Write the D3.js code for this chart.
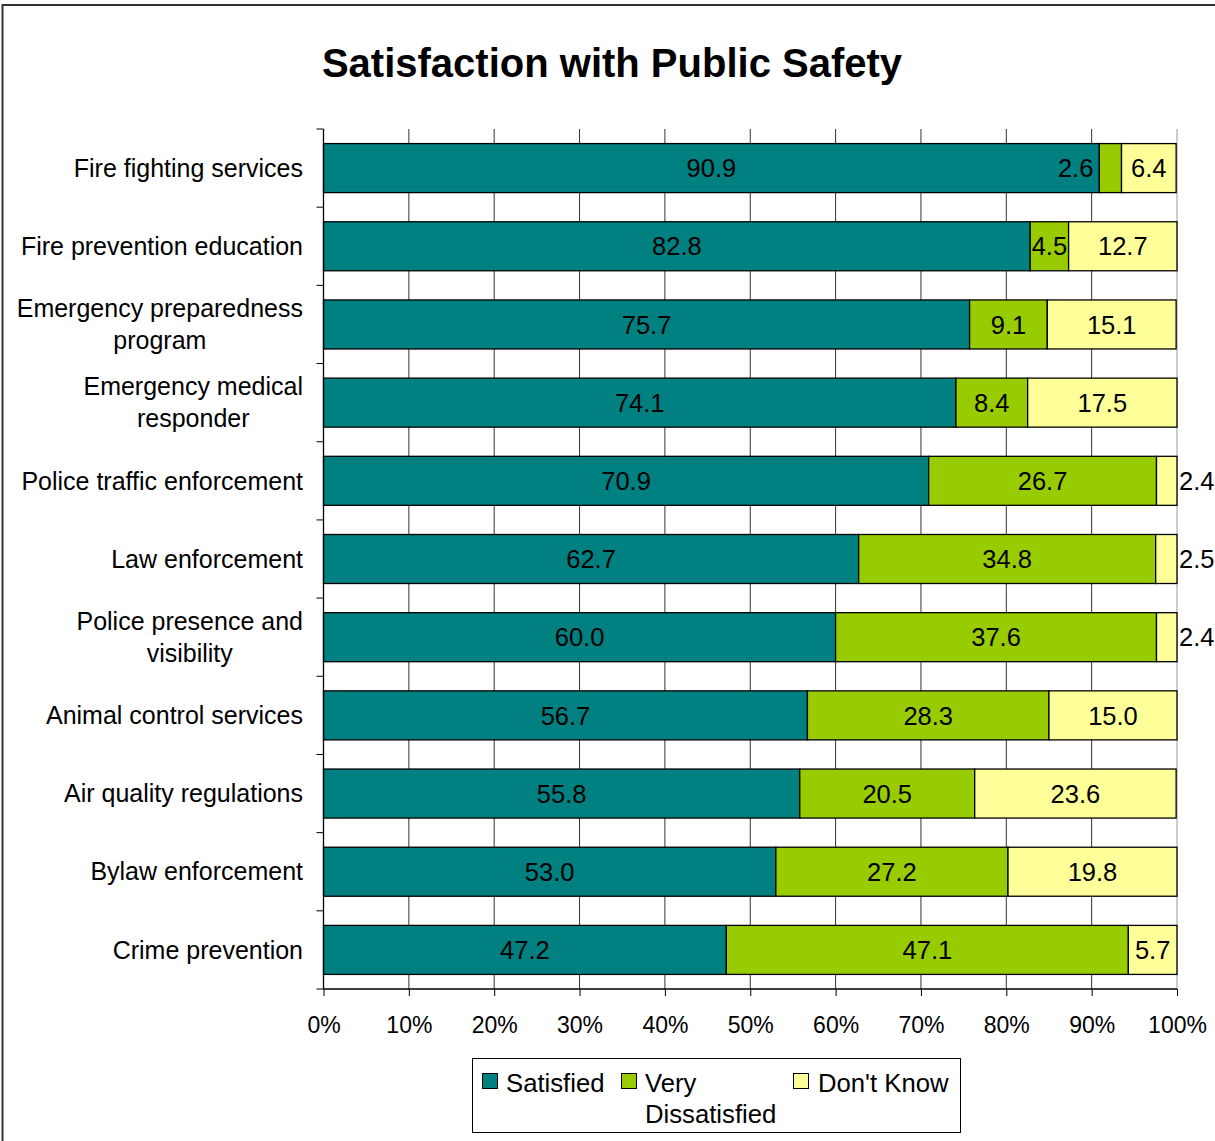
<!DOCTYPE html>
<html>
<head>
<meta charset="utf-8">
<script src="https://cdn.jsdelivr.net/npm/d3@7"></script>
<style>
  html, body { margin: 0; padding: 0; background: #fff; }
  svg { display: block; font-family: "Liberation Sans", Arial, sans-serif; }
</style>
</head>
<body>
<svg id="chart" width="1215" height="1141"></svg>
<script>
// Survey services, top to bottom
const categories = [
  "Fire fighting services",
  "Fire prevention education",
  "Emergency preparedness program",
  "Emergency medical responder",
  "Police traffic enforcement",
  "Law enforcement",
  "Police presence and visibility",
  "Animal control services",
  "Air quality regulations",
  "Bylaw enforcement",
  "Crime prevention"
];

// Percent of respondents per response
const satisfied        = [90.9, 82.8, 75.7, 74.1, 70.9, 62.7, 60.0, 56.7, 55.8, 53.0, 47.2];
const veryDissatisfied = [2.6, 4.5, 9.1, 8.4, 26.7, 34.8, 37.6, 28.3, 20.5, 27.2, 47.1];
const dontKnow         = [6.4, 12.7, 15.1, 17.5, 2.4, 2.5, 2.4, 15.0, 23.6, 19.8, 5.7];

const seriesNames = ["Satisfied", "Very Dissatisfied", "Don't Know"];
const seriesColors = ["#008080", "#99CC00", "#FFFF99"];
const tickValues = [0, 10, 20, 30, 40, 50, 60, 70, 80, 90, 100];

const svg = d3.select("#chart");

// outer chart frame
svg.append("rect")
  .attr("x", 2.5).attr("y", 5)
  .attr("width", 1400).attr("height", 1300)
  .attr("fill", "none").attr("stroke", "#333").attr("stroke-width", 2);

// title
svg.append("text")
  .attr("x", 612).attr("y", 77)
  .attr("text-anchor", "middle")
  .attr("font-size", 40).attr("font-weight", "bold")
  .text("Satisfaction with Public Safety");

const plot = { left: 323.5, right: 1177, top: 129, bottom: 989 };

const x = d3.scaleLinear().domain([0, 100]).range([plot.left, plot.right]);
const y = d3.scaleBand().domain(categories)
  .range([plot.top, plot.bottom])
  .paddingInner(0.373).paddingOuter(0.1865);

// vertical gridlines
svg.append("g").selectAll("line")
  .data(tickValues.slice(1))
  .join("line")
  .attr("x1", d => x(d)).attr("x2", d => x(d))
  .attr("y1", plot.top).attr("y2", plot.bottom)
  .attr("stroke", d => d === 100 ? "#999" : "#333")
  .attr("stroke-width", 1);

// stacked data
const rows = categories.map((c, i) => ({
  cat: c,
  vals: [satisfied[i], veryDissatisfied[i], dontKnow[i]]
}));
const segs = [];
rows.forEach(r => {
  let acc = 0;
  r.vals.forEach((v, s) => {
    segs.push({ cat: r.cat, s, v, x0: acc, x1: acc + v });
    acc += v;
  });
});

const barG = svg.append("g");
barG.selectAll("rect")
  .data(segs)
  .join("rect")
  .attr("x", d => x(d.x0))
  .attr("y", d => y(d.cat))
  .attr("width", d => x(d.x1) - x(d.x0))
  .attr("height", y.bandwidth())
  .attr("fill", d => seriesColors[d.s])
  .attr("stroke", "#000")
  .attr("stroke-width", 1.3);

// value labels
barG.selectAll("text")
  .data(segs)
  .join("text")
  .attr("font-size", 25.5)
  .attr("fill", "#000")
  .attr("y", d => y(d.cat) + y.bandwidth() / 2)
  .attr("dy", "0.36em")
  .each(function (d) {
    const w = x(d.x1) - x(d.x0);
    const t = d3.select(this);
    if (w < 30 && d.s === 2) {
      t.attr("x", x(100) + 2).attr("text-anchor", "start");
    } else if (w < 30) {
      t.attr("x", x(d.x0) - 6).attr("text-anchor", "end");
    } else {
      t.attr("x", (x(d.x0) + x(d.x1)) / 2).attr("text-anchor", "middle");
    }
  })
  .text(d => d.v.toFixed(1));

// axes lines
svg.append("line")
  .attr("x1", plot.left).attr("x2", plot.left)
  .attr("y1", plot.top).attr("y2", plot.bottom)
  .attr("stroke", "#000").attr("stroke-width", 1.3);
svg.append("line")
  .attr("x1", plot.left).attr("x2", plot.right)
  .attr("y1", plot.bottom).attr("y2", plot.bottom)
  .attr("stroke", "#000").attr("stroke-width", 1.3);

// category-boundary ticks on the left axis
const step = y.step();
svg.append("g").selectAll("line")
  .data(d3.range(categories.length + 1))
  .join("line")
  .attr("x1", plot.left - 7).attr("x2", plot.left)
  .attr("y1", i => plot.top + i * step).attr("y2", i => plot.top + i * step)
  .attr("stroke", "#000").attr("stroke-width", 1);

// bottom percentage axis
const xAxis = d3.axisBottom(x).tickValues(tickValues)
  .tickFormat(d => d + "%").tickSize(7).tickSizeOuter(0);
const ax = svg.append("g")
  .attr("transform", `translate(0,${plot.bottom})`)
  .call(xAxis);
ax.select(".domain").remove();
ax.selectAll(".tick line").attr("stroke", "#000");
ax.selectAll(".tick text")
  .attr("font-family", "Liberation Sans, Arial, sans-serif")
  .attr("font-size", 23).attr("fill", "#000")
  .attr("y", 0).attr("dy", 0)
  .attr("transform", "translate(0,44)");

// category labels, wrapped and centered within a right-aligned block
const labelRight = 303;
const maxLabelWidth = 295;
const lineGap = 32;
const catG = svg.append("g").attr("font-size", 25).attr("fill", "#000");
categories.forEach(cat => {
  const words = cat.split(" ");
  const lines = [];
  let cur = [];
  const probe = catG.append("text");
  words.forEach(wd => {
    const trial = cur.concat(wd).join(" ");
    probe.text(trial);
    if (probe.node().getComputedTextLength() > maxLabelWidth && cur.length) {
      lines.push(cur.join(" "));
      cur = [wd];
    } else {
      cur.push(wd);
    }
  });
  lines.push(cur.join(" "));
  const widths = lines.map(l => { probe.text(l); return probe.node().getComputedTextLength(); });
  probe.remove();
  const blockW = d3.max(widths);
  const cx = labelRight - blockW / 2;
  const cy = y(cat) + y.bandwidth() / 2;
  lines.forEach((l, k) => {
    catG.append("text")
      .attr("x", cx)
      .attr("y", cy + (k - (lines.length - 1) / 2) * lineGap)
      .attr("dy", "0.35em")
      .attr("text-anchor", "middle")
      .text(l);
  });
});

// legend
const legend = svg.append("g");
legend.append("rect")
  .attr("x", 472.5).attr("y", 1058.5)
  .attr("width", 488).attr("height", 74)
  .attr("fill", "#fff").attr("stroke", "#000").attr("stroke-width", 1);
const legendItems = [
  { sx: 482, tx: 506, lines: ["Satisfied"] },
  { sx: 621, tx: 645, lines: ["Very", "Dissatisfied"] },
  { sx: 793, tx: 818, lines: ["Don't Know"] }
];
legendItems.forEach((it, i) => {
  legend.append("rect")
    .attr("x", it.sx + 0.5).attr("y", 1073.5)
    .attr("width", 15).attr("height", 15)
    .attr("fill", seriesColors[i]).attr("stroke", "#000").attr("stroke-width", 1);
  it.lines.forEach((l, k) => {
    legend.append("text")
      .attr("x", it.tx).attr("y", 1091.5 + k * 31.5)
      .attr("font-size", 25.7).attr("fill", "#000")
      .text(l);
  });
});
</script>
</body>
</html>
